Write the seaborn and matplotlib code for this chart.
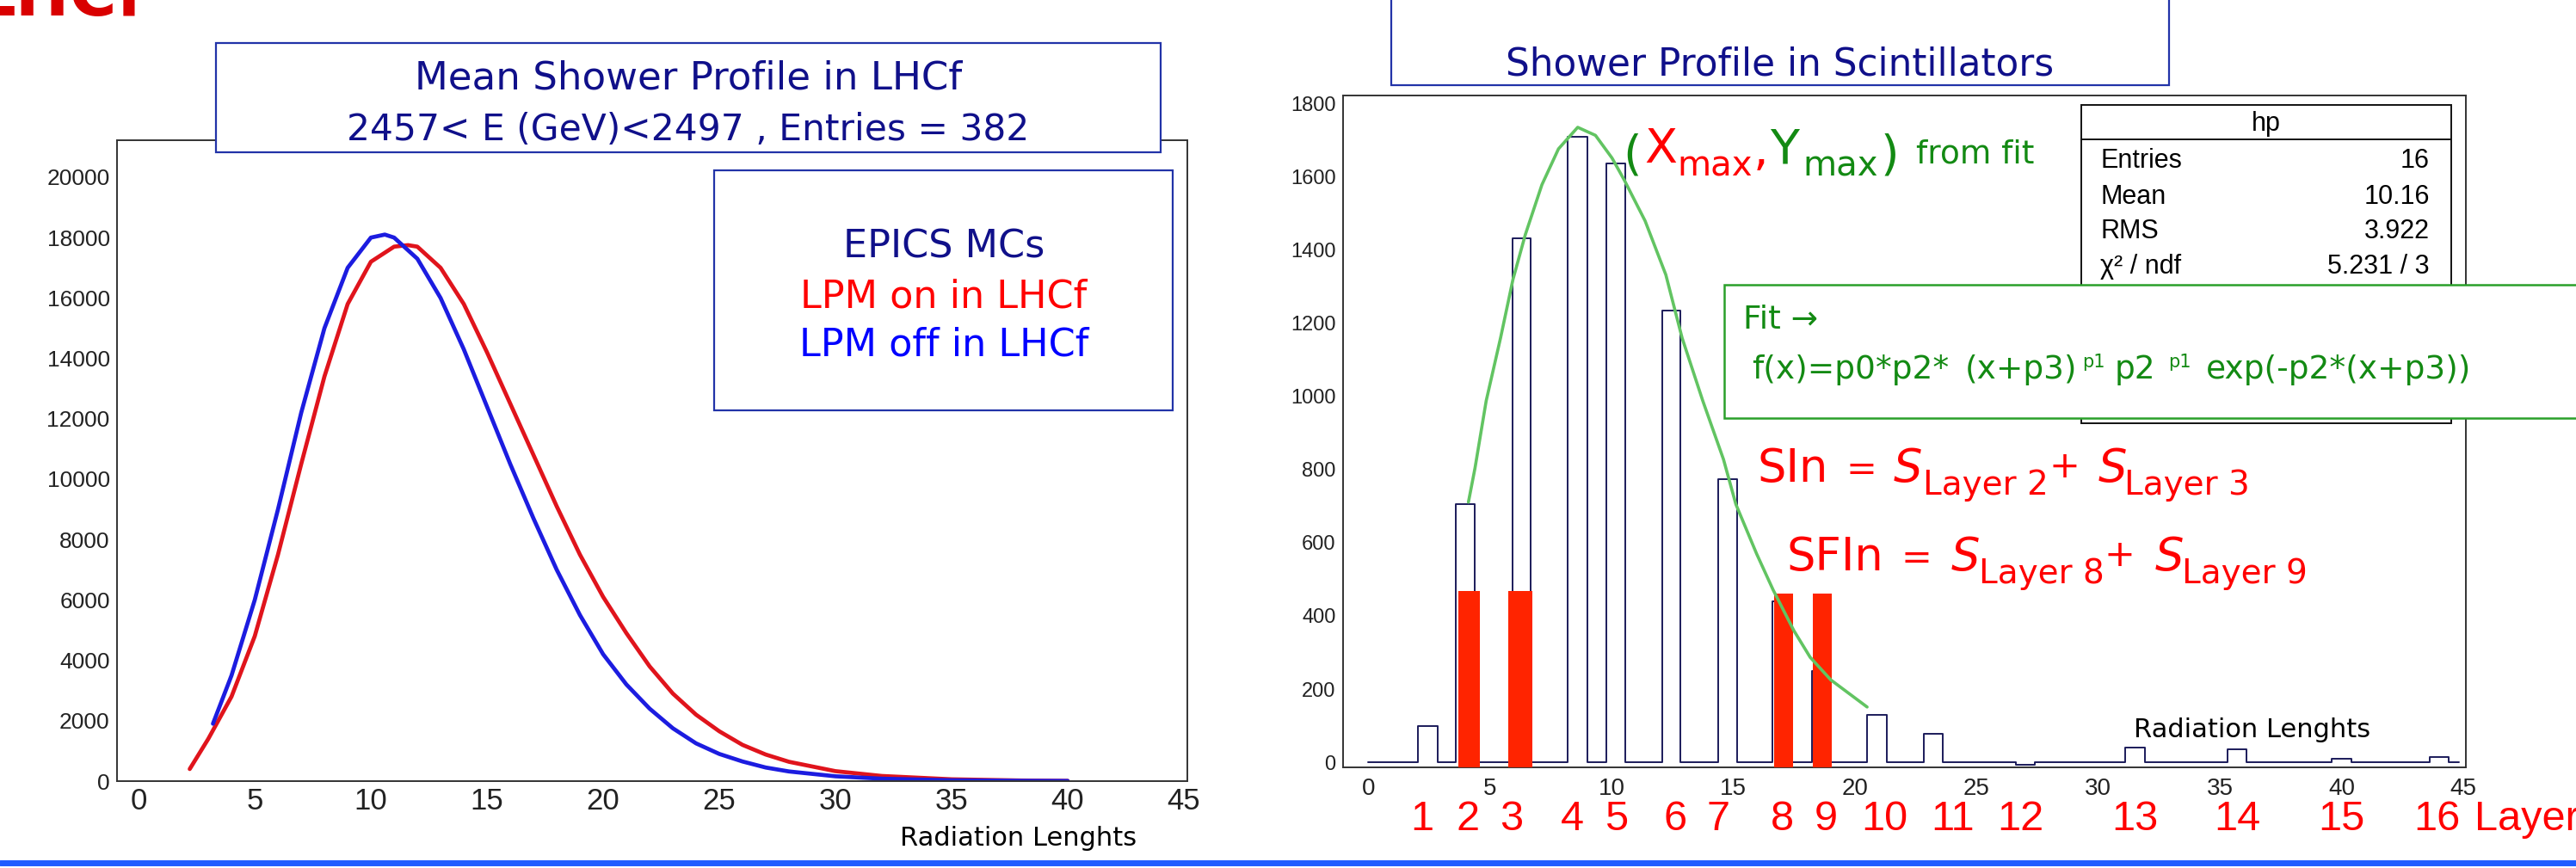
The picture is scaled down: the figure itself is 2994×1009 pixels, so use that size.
import matplotlib
matplotlib.use("Agg")
import matplotlib.pyplot as plt
import matplotlib.transforms as mtrans
import seaborn as sns
import pandas as pd
from matplotlib.patches import Rectangle
from matplotlib.lines import Line2D
from matplotlib.ticker import MultipleLocator

# ---------------- Left panel data: mean shower profile ----------------
lpm_off_x = [3.2, 4, 5, 6, 7, 8, 9, 10, 10.6, 11, 12, 13, 14, 15, 16, 17, 18, 19, 20,
             21, 22, 23, 24, 25, 26, 27, 28, 30, 32, 35, 38, 40]
lpm_off_y = [1900, 3500, 6000, 9000, 12200, 15000, 17000, 18000, 18100, 18000, 17300,
             16000, 14300, 12400, 10500, 8700, 7000, 5500, 4200, 3200, 2400, 1750, 1250,
             900, 650, 450, 320, 160, 80, 30, 10, 5]
lpm_on_x = [2.2, 3, 4, 5, 6, 7, 8, 9, 10, 11, 11.6, 12, 13, 14, 15, 16, 17, 18, 19, 20,
            21, 22, 23, 24, 25, 26, 27, 28, 30, 32, 35, 38, 40]
lpm_on_y = [400, 1400, 2800, 4800, 7500, 10500, 13400, 15800, 17200, 17700, 17750, 17700,
            17000, 15800, 14200, 12500, 10800, 9100, 7500, 6100, 4900, 3800, 2900, 2200,
            1650, 1200, 880, 640, 330, 170, 60, 20, 8]

# ---------------- Right panel data: histogram "hp" ----------------
layer_lo = [2.05, 3.61, 5.92, 8.21, 9.77, 12.07, 14.38, 16.62, 18.22, 20.50, 22.83,
            26.6, 31.1, 35.3, 39.6, 43.6]
layer_hi = [2.87, 4.39, 6.68, 9.00, 10.55, 12.84, 15.15, 17.40, 19.00, 21.30, 23.62,
            27.4, 31.9, 36.1, 40.4, 44.4]
layer_val = [100, 705, 1433, 1710, 1638, 1234, 775, 440, 250, 130, 78, -6, 40, 35, 10, 15]
hist_range = [0.0, 44.8]

sel_lo = [3.69, 5.75, 16.69, 18.28]
sel_hi = [4.60, 6.73, 17.45, 19.05]
sel_top = [469, 469, 461, 461]

fit_x = [4.12, 4.39, 4.85, 5.44, 5.95, 6.46, 7.14, 7.82, 8.61, 9.34, 10.02, 10.53,
         11.38, 12.23, 12.90, 13.75, 14.60, 15.11, 15.96, 16.64, 17.49, 18.16, 19.01, 20.50]
fit_y = [711, 804, 988, 1160, 1320, 1443, 1579, 1677, 1736, 1714, 1652, 1591,
         1480, 1333, 1160, 988, 828, 705, 570, 471, 360, 287, 225, 151]

layer_names = [str(i) for i in range(1, 17)]
layer_label_x = [2.2, 4.1, 5.9, 8.4, 10.2, 12.6, 14.4, 17.0, 18.8, 21.2, 24.0, 26.8,
                 31.5, 35.7, 40.0, 43.9]

stats_names = ["Entries", "Mean", "RMS", "χ² / ndf"]
stats_values = ["16", "10.16", "3.922", "5.231 / 3"]

# ---------------- figure ----------------
sns.set_theme(style="white")
plt.rcParams["font.family"] = ["Liberation Sans", "DejaVu Sans"]
W, H = 2994, 1009
fig = plt.figure(figsize=(W / 100, H / 100), dpi=100)
fig.patch.set_facecolor("white")


def fx(x):
    return x / W


def fy(y):
    return 1 - y / H


def axrect(l, t, r, b):
    return [fx(l), fy(b), fx(r) - fx(l), fy(t) - fy(b)]


GOTH = ["DejaVu Sans"]
NAVY = "#10108a"
GREEN = "#138a13"
RED = "#ff0000"

# ---- left axes ----
ax1 = fig.add_axes(axrect(136, 163, 1380, 908))
df_left = pd.DataFrame({
    "x": lpm_off_x + lpm_on_x,
    "y": lpm_off_y + lpm_on_y,
    "model": ["off"] * len(lpm_off_x) + ["on"] * len(lpm_on_x),
})
sns.lineplot(data=df_left, x="x", y="y", hue="model", hue_order=["on", "off"],
             palette={"on": "#e0141c", "off": "#1c1ce0"}, linewidth=3.4,
             legend=False, sort=False, estimator=None, ax=ax1)
ax1.set_xlim(-0.93, 45.15)
ax1.set_ylim(0, 21225)
ax1.xaxis.set_major_locator(MultipleLocator(5))
ax1.xaxis.set_minor_locator(MultipleLocator(1))
ax1.yaxis.set_major_locator(MultipleLocator(2000))
ax1.yaxis.set_minor_locator(MultipleLocator(500))
ax1.tick_params(axis="y", which="major", direction="in", length=26, width=1.1,
                labelsize=19, pad=6, colors="#222222")
ax1.tick_params(axis="y", which="minor", direction="in", length=14, width=1.1, colors="#222222")
ax1.tick_params(axis="x", which="major", direction="in", length=16, width=1.1,
                labelsize=25, pad=5, colors="#222222")
ax1.tick_params(axis="x", which="minor", direction="in", length=9, width=1.1, colors="#222222")

# ---- right axes ----
ax2 = fig.add_axes(axrect(1561, 111, 2866, 892))
centers = [(a + b) / 2 for a, b in zip(layer_lo, layer_hi)]
edges = [hist_range[0]]
for a, b in zip(layer_lo, layer_hi):
    edges += [a, b]
edges.append(hist_range[1])
sns.histplot(x=centers, weights=layer_val, bins=edges, element="step", fill=False,
             color="#1b1b5a", linewidth=1.4, ax=ax2, zorder=2)
ymin2, ymax2 = -14, 1823
ax2.bar(sel_lo, [t - ymin2 for t in sel_top],
        width=[b - a for a, b in zip(sel_lo, sel_hi)], bottom=ymin2, align="edge",
        color="#ff2400", linewidth=0, zorder=3)
sns.lineplot(x=fit_x, y=fit_y, color="#62c462", linewidth=2.6, ax=ax2, zorder=4)
ax2.set_xlim(-1.03, 45.1)
ax2.set_ylim(ymin2, ymax2)
for ax in (ax1, ax2):
    ax.set_xlabel("")
    ax.set_ylabel("")
ax2.xaxis.set_major_locator(MultipleLocator(5))
ax2.xaxis.set_minor_locator(MultipleLocator(1))
ax2.yaxis.set_major_locator(MultipleLocator(200))
ax2.yaxis.set_minor_locator(MultipleLocator(50))
ax2.tick_params(axis="y", which="major", direction="in", length=29, width=1.1,
                labelsize=17, pad=6, colors="#222222")
ax2.tick_params(axis="y", which="minor", direction="in", length=14, width=1.1, colors="#222222")
ax2.tick_params(axis="x", which="major", direction="in", length=17, width=1.1,
                labelsize=20, pad=9, colors="#222222")
ax2.tick_params(axis="x", which="minor", direction="in", length=8, width=1.1, colors="#222222")

for ax in (ax1, ax2):
    for s in ax.spines.values():
        s.set_color("#333333")
        s.set_linewidth(1.4)
    ax.grid(False)
    ax.set_facecolor("white")


def box(x0, y0, x1, y1, ec, lw=1.6, z=5):
    r = Rectangle((fx(x0), fy(y1)), fx(x1) - fx(x0), fy(y0) - fy(y1),
                  transform=fig.transFigure, facecolor="white", edgecolor=ec,
                  linewidth=lw, zorder=z)
    fig.add_artist(r)


def txt(x, y, s, **kw):
    kw.setdefault("zorder", 10)
    kw.setdefault("va", "baseline")
    return fig.text(fx(x), fy(y), s, **kw)


# ---- logo (cut off by the top edge, as in the slide) ----
txt(-30, 18, "LHCf", color="#d90000", fontsize=54, fontweight="bold", family=GOTH, ha="left")

# ---- left title box ----
box(251, 50, 1349, 177, "#2233a8")
txt(800, 103, "Mean Shower Profile in LHCf", color=NAVY, fontsize=32.5, family=GOTH, ha="center")
txt(800, 163, "2457< E (GeV)<2497 , Entries = 382", color=NAVY, fontsize=30.5, family=GOTH, ha="center")

# ---- left legend box ----
box(830, 198, 1363, 477, "#2233a8")
txt(1097, 300, "EPICS MCs", color=NAVY, fontsize=32, family=GOTH, ha="center")
txt(1097, 358, "LPM on in LHCf", color=RED, fontsize=32, family=GOTH, ha="center")
txt(1097, 413, "LPM off in LHCf", color="#0000ff", fontsize=32, family=GOTH, ha="center")

txt(1046, 983, "Radiation Lenghts", color="black", fontsize=22, family=GOTH, ha="left")

# ---- right title box ----
box(1617, -5, 2521, 99, "#2233a8")
txt(2069, 88, "Shower Profile in Scintillators", color=NAVY, fontsize=31.5, family=GOTH, ha="center")

# ---- stats box ----
box(2419, 122, 2849, 492, "#111111", lw=1.4, z=5)
fig.add_artist(Line2D([fx(2419), fx(2849)], [fy(162), fy(162)], transform=fig.transFigure,
                      color="#111111", linewidth=1.4, zorder=6))
txt(2634, 152, "hp", color="black", fontsize=22, ha="center")
for name, val, yb in zip(stats_names, stats_values, [195, 237, 277, 318]):
    txt(2441, yb, name, color="black", fontsize=22, ha="left", zorder=8)
    txt(2824, yb, val, color="black", fontsize=22, ha="right", zorder=8)

# ---- fit box ----
box(2004, 331, 3010, 486, "#2aa02a", lw=1.8, z=9)
for (x, s, sz, yb) in [
    (2026, "Fit →", 27, 382), (2036, "f(x)=p0*p2*", 27, 440), (2284, "(x+p3)", 27, 440),
    (2420, "p1", 15, 427), (2458, "p2", 27, 440), (2520, "p1", 15, 427),
    (2564, "exp(-p2*(x+p3))", 27, 440),
]:
    txt(x, yb, s, color=GREEN, fontsize=sz, family=GOTH, ha="left", zorder=11)

# ---- (Xmax, Ymax) from fit ----
for (x, s, c, sz, yb) in [
    (1886, "(", GREEN, 40, 197), (1911, "X", RED, 40, 189), (1949, "max", RED, 29, 205),
    (2038, ",", RED, 40, 192), (2057, "Y", GREEN, 40, 189), (2095, "max", GREEN, 29, 205),
    (2186, ")", GREEN, 40, 197), (2227, "from fit", GREEN, 27, 190),
]:
    txt(x, yb, s, color=c, fontsize=sz, family=GOTH, ha="left")

# ---- SIn / SFIn ----
for (x, s, sz, yb, st) in [
    (2043, "SIn", 38, 560, "normal"), (2146, "=", 31, 558, "normal"),
    (2201, "S", 38, 560, "italic"), (2235, "Layer 2", 28, 575, "normal"),
    (2381, "+", 31, 555, "normal"), (2439, "S", 38, 560, "italic"),
    (2469, "Layer 3", 28, 575, "normal"),
    (2077, "SFIn", 38, 663, "normal"), (2210, "=", 31, 661, "normal"),
    (2268, "S", 38, 663, "italic"), (2300, "Layer 8", 28, 678, "normal"),
    (2446, "+", 31, 658, "normal"), (2505, "S", 38, 663, "italic"),
    (2536, "Layer 9", 28, 678, "normal"),
]:
    txt(x, yb, s, color=RED, fontsize=sz, family=GOTH, ha="left", style=st)

txt(2480, 857, "Radiation Lenghts", color="black", fontsize=22, family=GOTH, ha="left")

# ---- layer labels under the right axis ----
NARROW = ["Liberation Sans Narrow", "Liberation Sans", "DejaVu Sans"]
lab_tr = ax2.get_xaxis_transform() + mtrans.ScaledTranslation(0, -(965 - 892) / 100, fig.dpi_scale_trans)
for name, lx in zip(layer_names, layer_label_x):
    ax2.text(lx, 0, name, transform=lab_tr, color=RED, fontsize=35,
             family=NARROW, ha="center", va="baseline", clip_on=False)
txt(2876, 965, "Layers", color=RED, fontsize=35, family=NARROW, ha="left")

# ---- bottom blue rule ----
fig.add_artist(Line2D([0, 1], [fy(1003), fy(1003)], transform=fig.transFigure,
                      color="#1f5cff", linewidth=5, zorder=10))

fig.savefig("out.png", dpi=100, facecolor="white")
